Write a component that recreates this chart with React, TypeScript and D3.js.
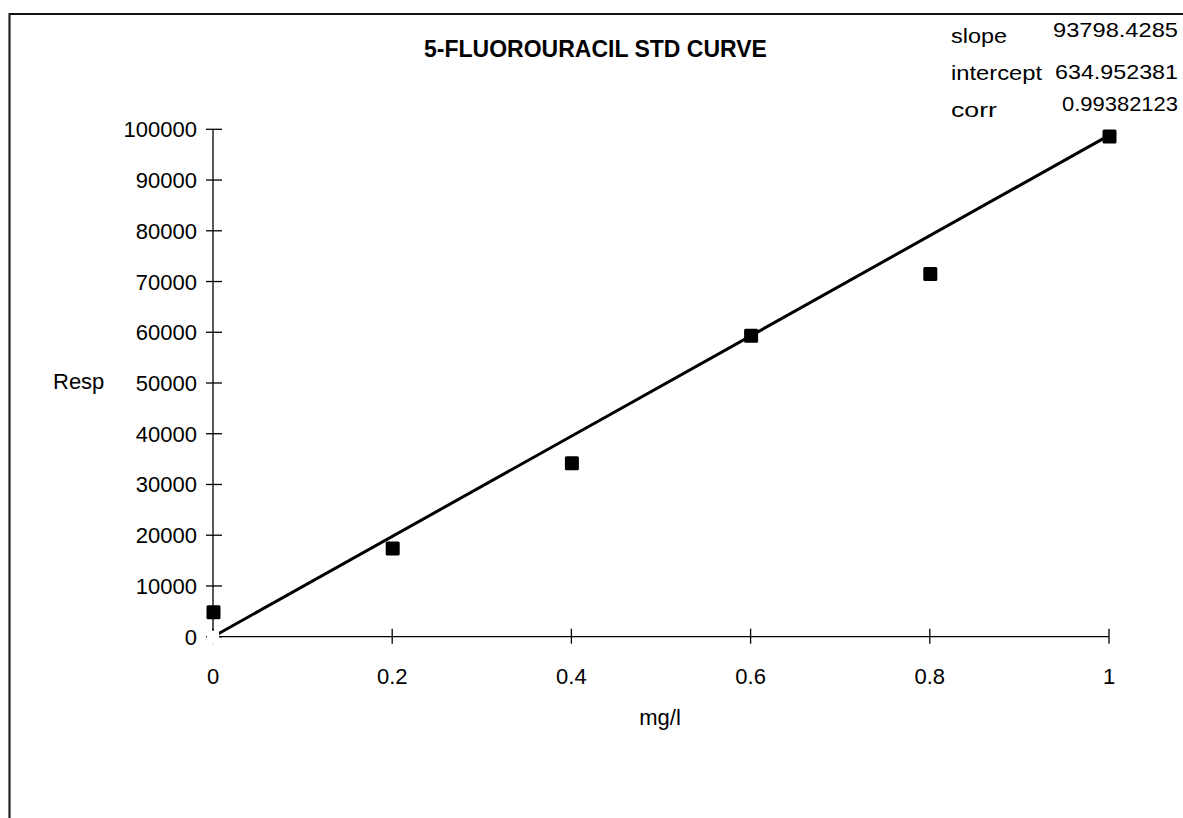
import React from "react";
import * as d3 from "d3";

// Standard curve measurements
const concentrations = [0, 0.2, 0.4, 0.6, 0.8, 1];
const responses = [4700, 17300, 34100, 59200, 71400, 98500];

// Drawn calibration line (two end points)
const lineX = [0, 1];
const lineY = [0, 98800];

const xTicks = [0, 0.2, 0.4, 0.6, 0.8, 1];
const yTicks = [0, 10000, 20000, 30000, 40000, 50000, 60000, 70000, 80000, 90000, 100000];

const statLabels = ["slope", "intercept", "corr"];
const statValues = ["93798.4285", "634.952381", "0.99382123"];

const title = "5-FLUOROURACIL STD CURVE";
const xTitle = "mg/l";
const yTitle = "Resp";

const W = 1183;
const H = 818;
const FONT = "'Liberation Sans', Arial, sans-serif";

export default function App() {
  const x = d3.scaleLinear().domain([0, 1]).range([213, 1109]);
  const y = d3.scaleLinear().domain([0, 100000]).range([636.7, 129.3]);

  const linePath = d3
    .line<number>()
    .x((_, i) => x(lineX[i]))
    .y((d) => y(d))(lineY);

  const ms = 14;

  // positions of the stats block rows
  const statRows = [
    { lb: 43, vb: 37, lw: 56, vw: 125 },
    { lb: 80, vb: 79, lw: 91, vw: 123 },
    { lb: 117, vb: 111, lw: 46, vw: 116 },
  ];

  return (
    <svg
      width={W}
      height={H}
      style={{ position: "absolute", left: 0, top: 0, background: "#fff" }}
      fontFamily={FONT}
    >
      <rect x={0} y={0} width={W} height={H} fill="#fff" />
      {/* chart frame */}
      <line x1={9.5} y1={14} x2={W + 5} y2={14} stroke="#111" strokeWidth={2} />
      <line x1={9.5} y1={13} x2={9.5} y2={H + 5} stroke="#222" strokeWidth={2.2} />

      {/* title */}
      <text x={595.5} y={57} textAnchor="middle" fontSize={23} fontWeight="bold">
        {title}
      </text>

      {/* regression stats */}
      {statLabels.map((s, i) => (
        <g key={s}>
          <text
            x={951}
            y={statRows[i].lb}
            fontSize={21}
            textLength={statRows[i].lw}
            lengthAdjust="spacingAndGlyphs"
          >
            {s}
          </text>
          <text
            x={1178 - statRows[i].vw}
            y={statRows[i].vb}
            fontSize={21}
            textLength={statRows[i].vw}
            lengthAdjust="spacingAndGlyphs"
          >
            {statValues[i]}
          </text>
        </g>
      ))}

      {/* y axis */}
      <line x1={x(0)} y1={y(100000)} x2={x(0)} y2={y(0)} stroke="#000" strokeWidth={1.3} />
      {yTicks.map((t) => (
        <g key={t}>
          <line x1={x(0) - 7} x2={x(0) + 9} y1={y(t)} y2={y(t)} stroke="#000" strokeWidth={1.3} />
          <text x={197} y={y(t) + 8} textAnchor="end" fontSize={22}>
            {t}
          </text>
        </g>
      ))}

      {/* x axis */}
      <line x1={x(0)} y1={y(0)} x2={x(1)} y2={y(0)} stroke="#000" strokeWidth={1.3} />
      {xTicks.map((t) => (
        <g key={t}>
          <line x1={x(t)} x2={x(t)} y1={y(0) - 8} y2={y(0) + 7} stroke="#000" strokeWidth={1.3} />
          <text x={x(t)} y={684} textAnchor="middle" fontSize={22}>
            {String(t)}
          </text>
        </g>
      ))}

      {/* axis titles */}
      <text x={53} y={389} fontSize={22}>
        {yTitle}
      </text>
      <text x={660} y={725} textAnchor="middle" fontSize={22}>
        {xTitle}
      </text>

      {/* calibration line */}
      <path d={linePath ?? ""} fill="none" stroke="#000" strokeWidth={3} />
      {lineX.map((v, i) => (
        <rect
          key={"w" + i}
          x={x(v) - 6}
          y={y(lineY[i]) - 6}
          width={12}
          height={13}
          fill="#fff"
        />
      ))}

      {/* measured points */}
      {concentrations.map((c, i) => (
        <rect
          key={c}
          x={x(c) - ms / 2 + 0.5}
          y={y(responses[i]) - ms / 2 - 0.5}
          width={ms}
          height={ms}
          rx={1.5}
          fill="#000"
        />
      ))}
    </svg>
  );
}
